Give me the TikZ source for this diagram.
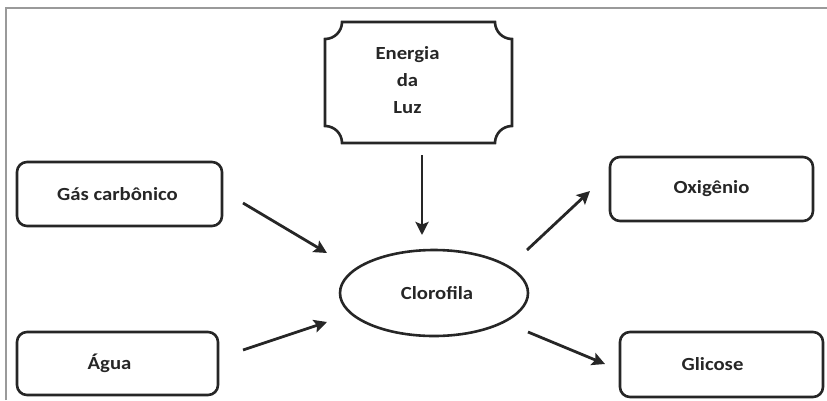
\documentclass[tikz,border=0pt]{standalone}
\usepackage{fontspec}
\setmainfont{Carlito}[FakeStretch=1.12]
\usetikzlibrary{shapes.geometric,arrows.meta}
\definecolor{boxline}{HTML}{262626}
\definecolor{framegray}{HTML}{9A9A9A}
\begin{document}
\begin{tikzpicture}[x=1pt,y=-1pt,
  lbl/.style={font=\fontsize{18.5}{27}\selectfont\bfseries, text=boxline},
  rbox/.style={lbl, draw=boxline, line width=2.6pt, rounded corners=10pt, inner sep=0pt},
  flow/.style={line width=2.8pt, draw=boxline, -{Stealth[length=13pt,width=13pt,inset=2.5pt]}}]
\useasboundingbox (0,0) rectangle (827,400);
\draw[framegray, line width=1.8pt] (6,400) -- (6,8) -- (827,8);
% input and output boxes
\node[rbox, minimum width=205pt, minimum height=64pt] (gas) at (119.5,194) {Gás carbônico\hspace*{4pt}};
\node[rbox, minimum width=201pt, minimum height=63pt] (agua) at (117.5,363.5) {Água\hspace*{16pt}};
\node[rbox, minimum width=203pt, minimum height=64pt] (oxi) at (711.5,189) {Oxigênio};
\node[rbox, minimum width=203pt, minimum height=65pt] (gli) at (721.5,364.5) {Glicose\hspace*{18pt}};
% central ellipse
\node[lbl, ellipse, draw=boxline, line width=2.6pt, minimum width=188pt, minimum height=86pt, inner sep=0pt] (cloro) at (434,293) {\hspace*{6pt}Clorofila};
% light energy plaque
\draw[boxline, line width=2.6pt]
  (342,22) -- (495,22) .. controls (495,31.4) and (502.6,39) .. (512,39)
  -- (512,126) .. controls (502.6,126) and (495,133.6) .. (495,143)
  -- (342,143) .. controls (342,133.6) and (334.4,126) .. (325,126)
  -- (325,39) .. controls (334.4,39) and (342,31.4) .. cycle;
\node[lbl, align=center, inner sep=0pt] (luz) at (407.5,80) {Energia\\da\\Luz};
% arrow end points
\coordinate (luzA) at (422,155);
\coordinate (luzB) at (422,235);
\coordinate (gasA) at (243,203);
\coordinate (gasB) at (327,253);
\coordinate (aguaA) at (243,350);
\coordinate (aguaB) at (327,322);
\coordinate (oxiA) at (527,250);
\coordinate (oxiB) at (590,191);
\coordinate (gliA) at (528,332);
\coordinate (gliB) at (605,364);
\draw[flow] (luzA) -- (luzB);
\draw[flow] (gasA) -- (gasB);
\draw[flow] (aguaA) -- (aguaB);
\draw[flow] (oxiA) -- (oxiB);
\draw[flow] (gliA) -- (gliB);
\end{tikzpicture}
\end{document}
